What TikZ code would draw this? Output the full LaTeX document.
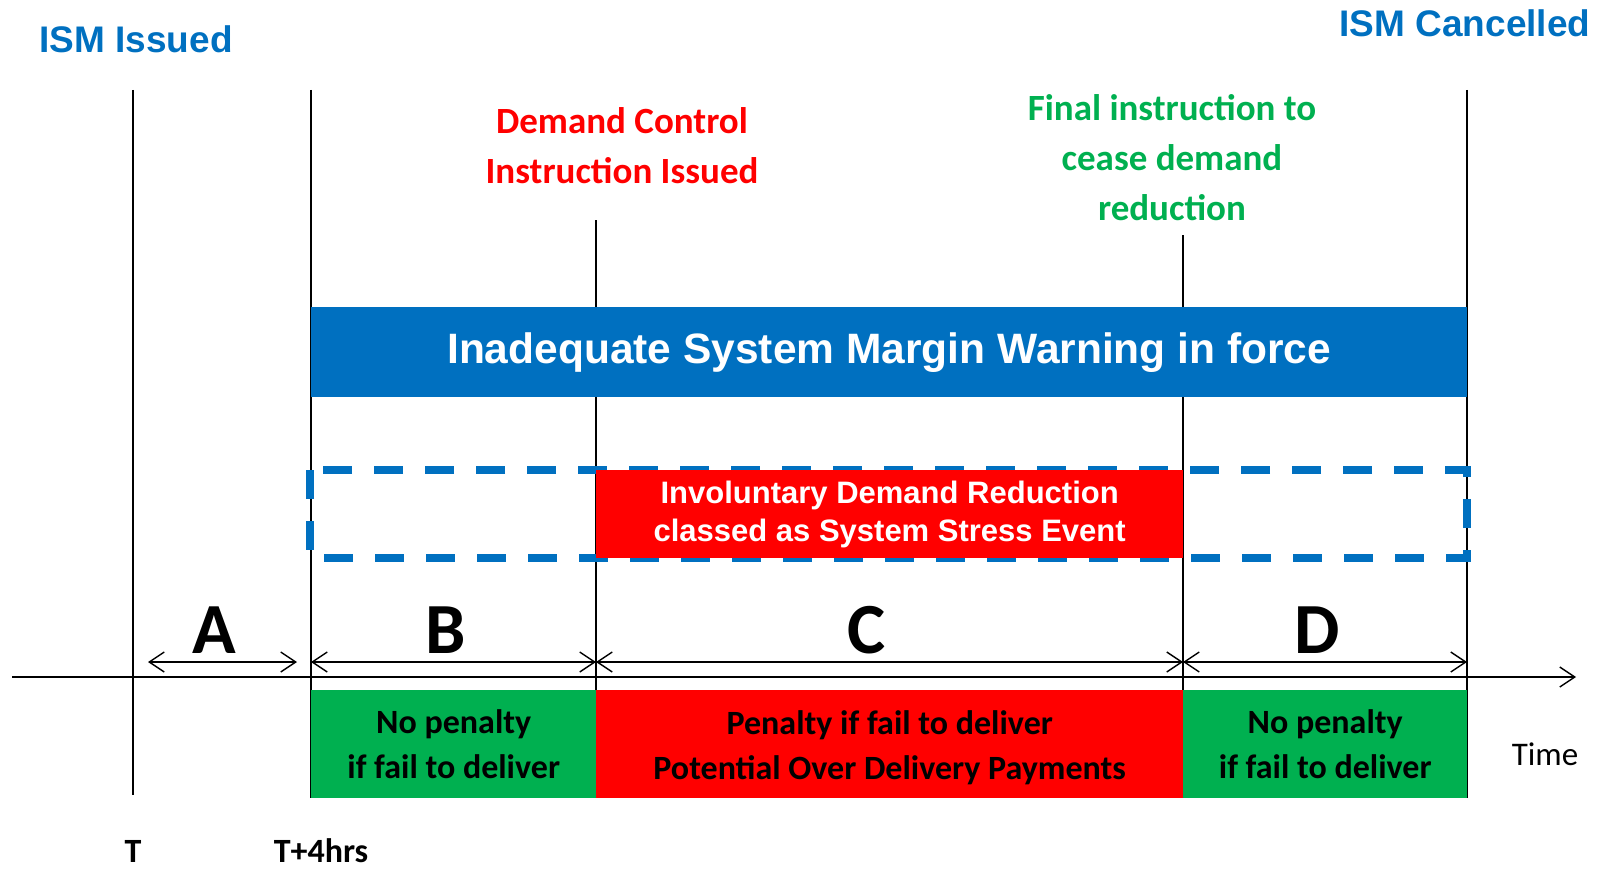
\documentclass[tikz,border=0pt]{standalone}
\usepackage{fontspec}
\setmainfont{Carlito}
\newfontfamily\arialfont{Liberation Sans}
\usetikzlibrary{arrows.meta}
\definecolor{ismblue}{HTML}{0070C0}
\definecolor{ismred}{HTML}{FF0000}
\definecolor{ismgreen}{HTML}{00B050}

\begin{document}
\begin{tikzpicture}[x=1pt,y=-1pt,
  tick line/.style={line width=1.4pt},
  span/.style={line width=1.4pt,{Straight Barb[length=15pt,width=20pt]}-{Straight Barb[length=15pt,width=20pt]}},
  head/.style={font=\arialfont\bfseries\fontsize{37}{44}\selectfont,text=ismblue,anchor=base,inner sep=0},
  note/.style={font=\bfseries\fontsize{37}{50}\selectfont,align=center,inner sep=0},
  letter/.style={font=\bfseries\fontsize{72}{80}\selectfont,anchor=base,inner sep=0},
  tlabel/.style={font=\bfseries\fontsize{34}{40}\selectfont,anchor=base,inner sep=0},
  penbox/.style={minimum height=108pt,inner sep=0,anchor=north west,align=center,
    font=\bfseries\fontsize{34}{45}\selectfont}]
\useasboundingbox (0,0) rectangle (1604,872);

\coordinate (T top) at (133,90);
\coordinate (T bot) at (133,795);
\coordinate (T4 top) at (311,90);
\coordinate (T4 bot) at (311,798);
\coordinate (dc top) at (596,220);
\coordinate (dc bot) at (596,798);
\coordinate (fi top) at (1183,235);
\coordinate (fi bot) at (1183,798);
\coordinate (cx top) at (1467,90);
\coordinate (cx bot) at (1467,798);
\draw[tick line] (T top) -- (T bot);
\draw[tick line] (T4 top) -- (T4 bot);
\draw[tick line] (dc top) -- (dc bot);
\draw[tick line] (fi top) -- (fi bot);
\draw[tick line] (cx top) -- (cx bot);

\coordinate (axis start) at (12,677);
\coordinate (axis end) at (1576,677);
\draw[tick line,-{Straight Barb[length=15pt,width=20pt]}] (axis start) -- (axis end);

\node[head] (issued) at (136,53) {ISM Issued};
\node[head] (cancelled) at (1465,37) {ISM Cancelled};
\node[note,text=ismred] (dci) at (622,146) {Demand Control\\Instruction Issued};
\node[note,text=ismgreen] (final) at (1172,158) {Final instruction to\\cease demand\\reduction};

\node[fill=ismblue,text=white,minimum width=1156pt,minimum height=90pt,inner sep=0,anchor=north west,
  font=\arialfont\bfseries\fontsize{42.5}{48}\selectfont] (ismw) at (311,307) {Inadequate System Margin Warning in force};

\draw[ismblue,line width=8pt,dash pattern=on 29pt off 22pt] (310,470) rectangle (1467,558);
\node[fill=ismred,text=white,minimum width=587pt,minimum height=88pt,inner sep=0,anchor=north west,align=center,
  font=\arialfont\bfseries\fontsize{31}{38}\selectfont] (idr) at (596,470) {Involuntary Demand Reduction\\classed as System Stress Event};

\coordinate (a0) at (148,662);
\coordinate (a1) at (297,662);
\coordinate (b0) at (311,662);
\coordinate (c0) at (596,662);
\coordinate (d0) at (1183,662);
\coordinate (d1) at (1467,662);
\draw[span] (a0) -- (a1);
\draw[span] (b0) -- (c0);
\draw[span] (c0) -- (d0);
\draw[span] (d0) -- (d1);
\node[letter] (lA) at (214,653) {A};
\node[letter] (lB) at (446,653) {B};
\node[letter] (lC) at (867,653) {C};
\node[letter] (lD) at (1317,653) {D};

\node[penbox,fill=ismgreen,minimum width=285pt] (penB) at (311,690) {No penalty\\if fail to deliver};
\node[penbox,fill=ismred,minimum width=587pt] (penC) at (596,690) {\rule{0pt}{30pt}Penalty if fail to deliver\\Potential Over Delivery Payments};
\node[penbox,fill=ismgreen,minimum width=284pt] (penD) at (1183,690) {No penalty\\if fail to deliver};

\node[font=\fontsize{33}{38}\selectfont,anchor=base,inner sep=0] (time) at (1545,765) {Time};
\node[tlabel] (tT) at (133,862) {T};
\node[tlabel] (tT4) at (321,862) {T+4hrs};
\end{tikzpicture}
\end{document}
